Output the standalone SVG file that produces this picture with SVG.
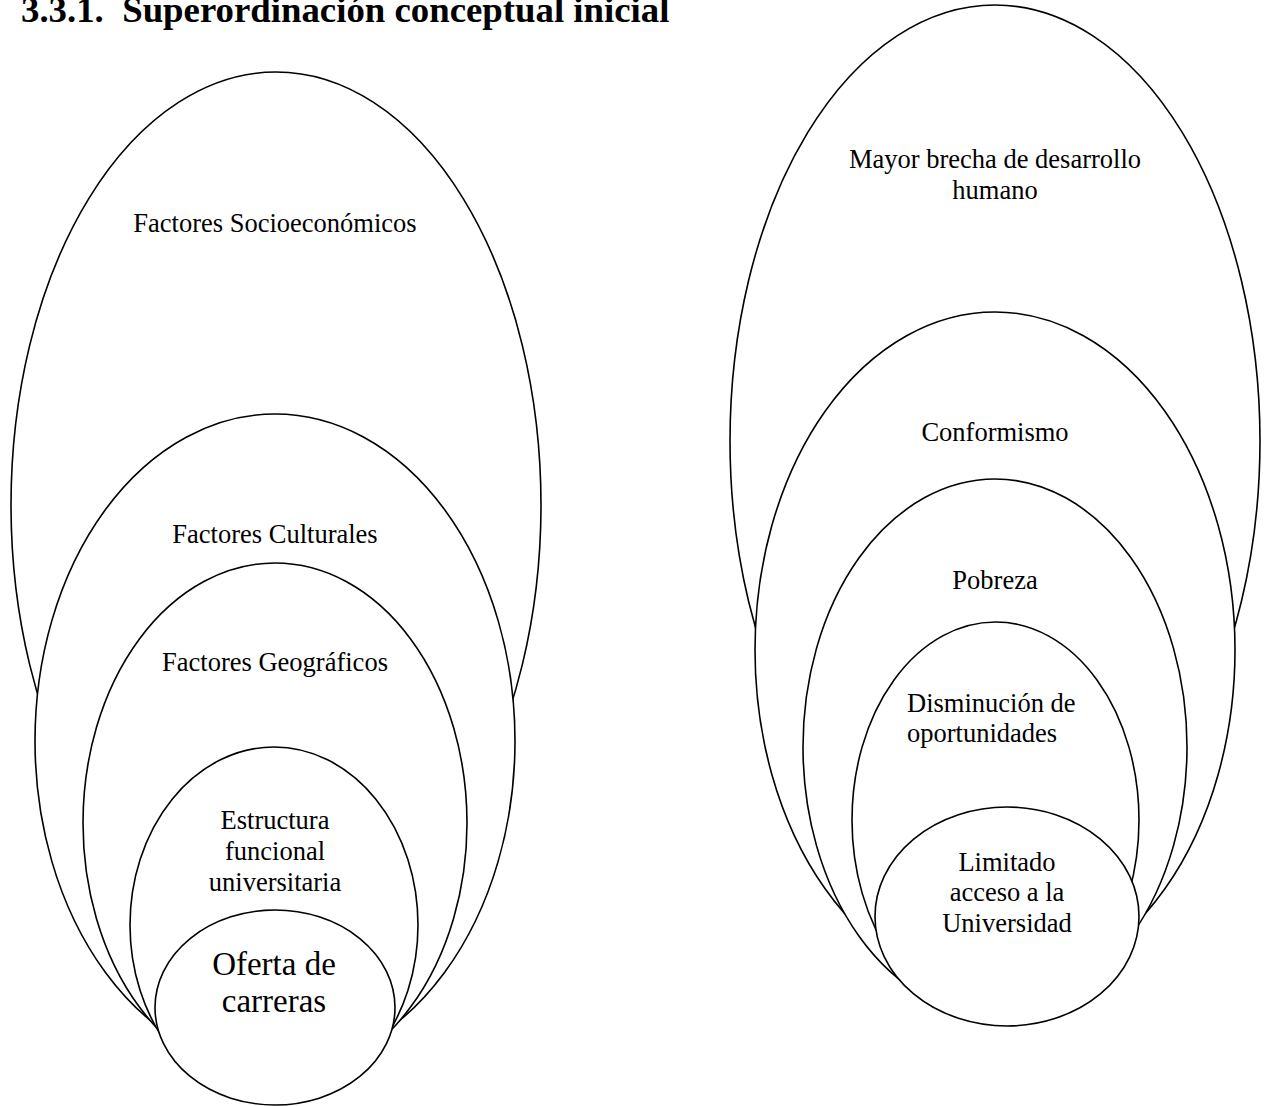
<svg xmlns="http://www.w3.org/2000/svg" width="1266" height="1106" viewBox="0 0 1266 1106">
<style>
.sh{fill:#fff;stroke:#000;stroke-width:1.6}
.t{font-family:"Liberation Serif","Times New Roman",serif;font-size:26.5px;fill:#000;text-anchor:middle}
.big{font-size:33px}
.title{font-family:"Liberation Serif","Times New Roman",serif;font-size:36.8px;font-weight:bold;fill:#000}
</style>
<rect width="1266" height="1106" fill="#fff"/>
<text class="title" x="21" y="22" xml:space="preserve">3.3.1.  Superordinación conceptual inicial</text>
<g id="connectors"></g>
<g id="left">
<g id="n-socio"><ellipse class="sh" cx="276" cy="505" rx="265" ry="433"/><text class="t" x="275" y="232">Factores Socioeconómicos</text></g>
<g id="n-cult"><ellipse class="sh" cx="275" cy="741" rx="240" ry="327"/><text class="t" x="275" y="543">Factores Culturales</text></g>
<g id="n-geo"><ellipse class="sh" cx="275" cy="823" rx="192" ry="260"/><text class="t" x="275" y="671">Factores Geográficos</text></g>
<g id="n-estr"><ellipse class="sh" cx="274" cy="925" rx="144" ry="178"/><text class="t" x="275" y="829">Estructura</text><text class="t" x="275" y="860">funcional</text><text class="t" x="275" y="890.5">universitaria</text></g>
<g id="n-oferta"><ellipse class="sh" cx="275" cy="1007.5" rx="120" ry="97.5"/><text class="t big" x="274" y="975">Oferta de</text><text class="t big" x="274" y="1012">carreras</text></g>
</g>
<g id="right">
<g id="n-brecha"><ellipse class="sh" cx="995" cy="441" rx="265" ry="436"/><text class="t" x="995" y="168">Mayor brecha de desarrollo</text><text class="t" x="995" y="198.5">humano</text></g>
<g id="n-conf"><ellipse class="sh" cx="995" cy="650" rx="240" ry="338"/><text class="t" x="995" y="441">Conformismo</text></g>
<g id="n-pob"><ellipse class="sh" cx="995" cy="747" rx="192" ry="268"/><text class="t" x="995" y="589">Pobreza</text></g>
<g id="n-dism"><ellipse class="sh" cx="995.5" cy="820" rx="143.5" ry="198"/><text class="t" x="907" y="712" style="text-anchor:start">Disminución de</text><text class="t" x="907" y="742" style="text-anchor:start">oportunidades</text></g>
<g id="n-lim"><ellipse class="sh" cx="1007" cy="916.5" rx="132" ry="109.5"/><text class="t" x="1007" y="871">Limitado</text><text class="t" x="1007" y="901">acceso a la</text><text class="t" x="1007" y="932">Universidad</text></g>
</g>
</svg>
